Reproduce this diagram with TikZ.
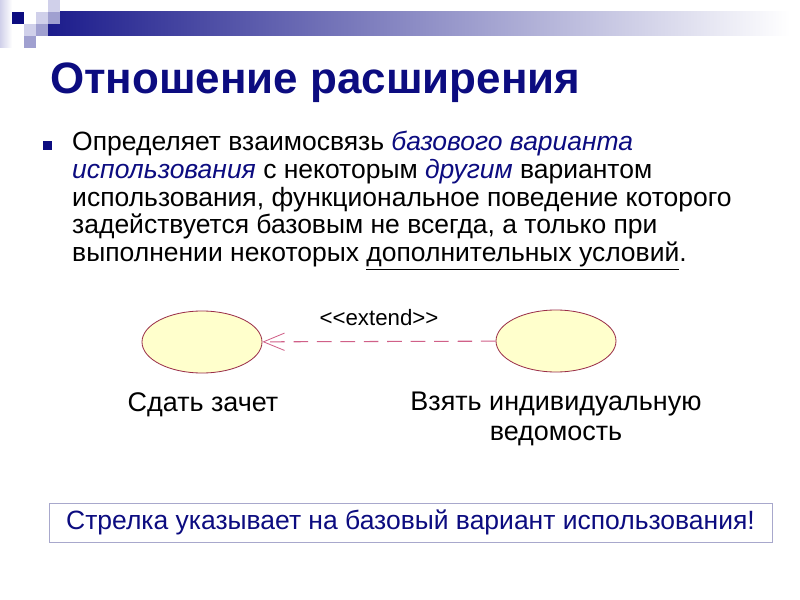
\documentclass[tikz,border=0pt]{standalone}
\usepackage{fontspec}
\setmainfont{Liberation Sans}
\usepackage{tikz}
\usetikzlibrary{shapes.geometric,arrows.meta}

\definecolor{navy}{HTML}{0C0C80}
\definecolor{barblue}{HTML}{1C1C8C}
\definecolor{sqmid}{HTML}{A0A0D0}
\definecolor{sqlight}{HTML}{D0D0EA}
\definecolor{ucfill}{HTML}{FFFFCC}
\definecolor{ucline}{HTML}{9A2E48}
\definecolor{extline}{HTML}{D06088}
\definecolor{boxline}{HTML}{A8A8CC}

\tikzset{
  usecase/.style={draw=ucline, fill=ucfill, shape=ellipse, line width=0.7pt,
    minimum width=36mm, minimum height=18.6mm, inner sep=0pt},
  uclabel/.style={anchor=north, align=center, inner sep=0pt,
    font=\fontsize{23}{25.5}\selectfont},
  extend/.style={draw=extline, line width=0.9pt, dash pattern=on 12.5pt off 7.5pt,
    -{Straight Barb[length=6.3mm, width=5.2mm, line width=0.7pt]}},
}

\begin{document}
\begin{tikzpicture}[x=0.3mm,y=-0.3mm]
\useasboundingbox (0,0) rectangle (800,600);
\fill[white] (0,0) rectangle (800,600);

% header bar and squares
\shade[left color=barblue, right color=white] (48,12) rectangle (790,36);
\fill[left color=sqlight, right color=white] (0,0) rectangle (12,48);
\fill[navy] (12,12) rectangle (24,24);
\fill[sqlight] (36,12) rectangle (48,24);
\fill[sqlight] (48,0) rectangle (60,12);
\fill[sqmid] (48,12) rectangle (60,24);
\fill[sqlight] (24,24) rectangle (36,36);
\fill[sqmid] (36,24) rectangle (48,36);
\fill[sqmid] (24,36) rectangle (36,48);

% title
\path (50,83) node[anchor=west, inner sep=0pt, text=navy,
  font=\fontsize{37.5}{40}\bfseries] (title) {Отношение расширения};

% bullet text
\fill[navy] (43,141) rectangle (52,150);
\path (72,131) node[anchor=north west, align=left, inner sep=0pt,
  font=\fontsize{22.6}{23.7}\selectfont] (text) {%
  Определяет взаимосвязь \textcolor{navy}{\itshape базового варианта}\\
  \textcolor{navy}{\itshape использования} с некоторым \textcolor{navy}{\itshape другим} вариантом\\
  использования, функциональное поведение которого\\
  задействуется базовым не всегда, а только при\\
  выполнении некоторых \underline{дополнительных условий}.};

% use cases
\path (202,342) node[usecase] (A) {};
\path (556,341) node[usecase] (B) {};
\path (203,392) node[uclabel] (Alab) {Сдать зачет};
\path (556,392) node[uclabel] (Blab) {Взять индивидуальную\\ведомость};

\path[extend] (B) -- node[above=4.5mm, inner sep=0pt,
  font=\fontsize{19}{21}\selectfont] (ext)
  {<\kern0pt<extend>\kern0pt>} (A);

% note box
\path (410.5,522.5) node[draw=boxline, line width=0.5pt, minimum width=216.9mm,
  minimum height=11.7mm, inner sep=0pt, text=navy,
  font=\fontsize{22.6}{24}\selectfont] (note) {Стрелка указывает на базовый вариант использования!};

\end{tikzpicture}
\end{document}
